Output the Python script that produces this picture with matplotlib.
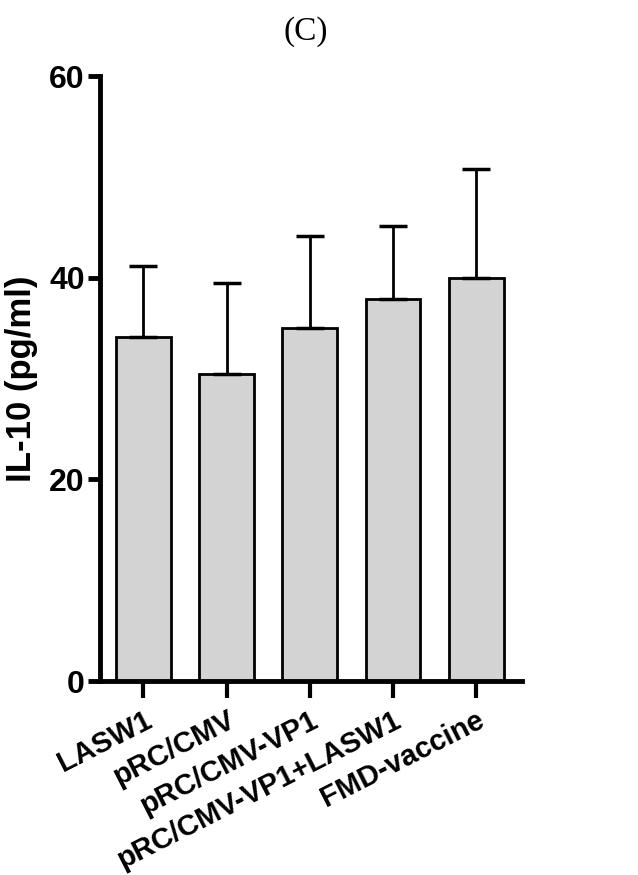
import matplotlib.pyplot as plt

# 数据
groups = ['LASW1', 'pRC/CMV', 'pRC/CMV-VP1', 'pRC/CMV-VP1+LASW1', 'FMD-vaccine']
means = [34.1, 30.5, 35.0, 37.9, 40.0]
errors = [7.1, 9.0, 9.1, 7.2, 10.8]
yticks = [0, 20, 40, 60]

plt.rcParams['font.family'] = ['Liberation Sans', 'DejaVu Sans']

fig = plt.figure(figsize=(6.38, 8.75), dpi=100)
ax = fig.add_axes([0.157, 0.2217, 0.661, 0.6913])

x = range(len(groups))
ax.bar(x, means, width=0.66, color='#d3d3d3', edgecolor='black', linewidth=2, zorder=2)
ax.errorbar(x, means, yerr=[[0] * len(errors), errors], fmt='none', ecolor='black',
            elinewidth=2, capsize=10, capthick=2.5, zorder=3)

ax.set_xlim(-0.52, 4.55)
ax.set_ylim(0, 60)
ax.set_yticks(yticks)
ax.set_xticks(list(x))
ax.set_xticklabels(groups, rotation=27, ha='right', rotation_mode='anchor',
                   fontsize=21, fontweight='bold')
ax.set_yticklabels([str(v) for v in yticks], fontsize=23, fontweight='bold')

for side in ['top', 'right']:
    ax.spines[side].set_visible(False)
for side in ['left', 'bottom']:
    ax.spines[side].set_linewidth(3.5)

ax.tick_params(axis='y', length=9, width=3.5, pad=2)
ax.tick_params(axis='x', length=12, width=3, pad=6)

ax.set_ylabel('IL-10 (pg/ml)', fontsize=25, fontweight='bold', labelpad=8)
ax.set_title('(C)', fontsize=24, family=['Liberation Serif', 'DejaVu Serif'],
             x=0.487, pad=26)

fig.savefig('out.png', dpi=100)
